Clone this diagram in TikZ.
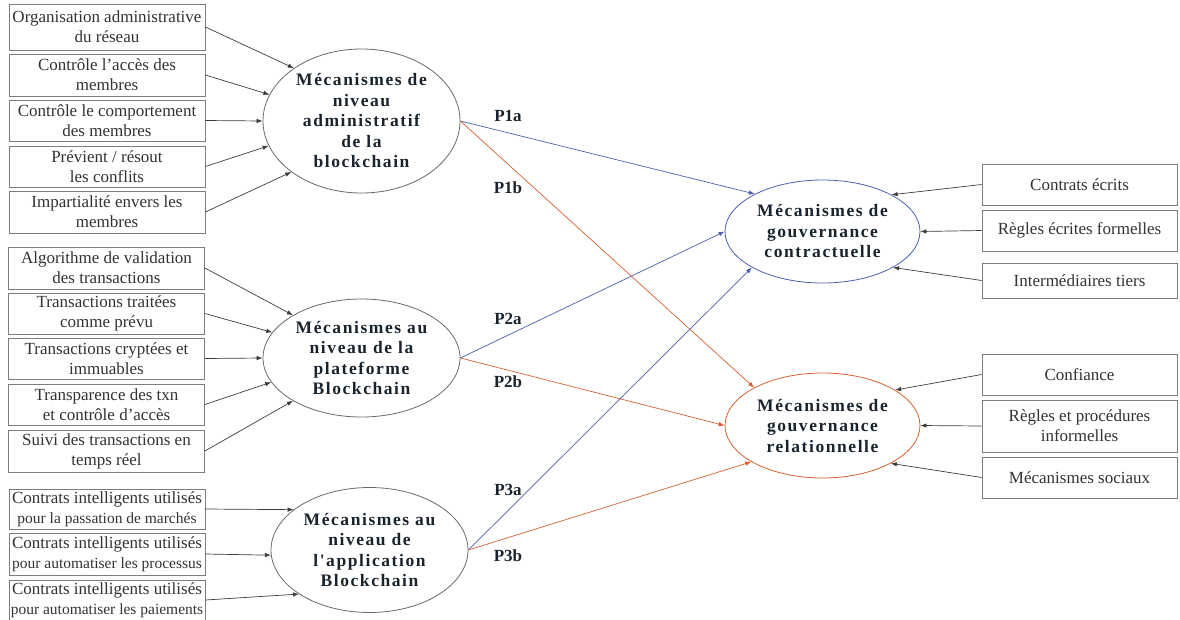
\documentclass[tikz,border=0pt]{standalone}
\usepackage{fontspec}
\setmainfont{Liberation Serif}
\newfontfamily\ellfont[LetterSpace=9]{Liberation Serif}
\usetikzlibrary{shapes.geometric,arrows.meta}
\definecolor{bxgray}{RGB}{125,125,125}
\definecolor{txgray}{RGB}{50,50,50}
\definecolor{navy}{RGB}{25,35,45}
\definecolor{lineblue}{RGB}{75,95,175}
\definecolor{lineorange}{RGB}{215,95,45}
\definecolor{arrgray}{RGB}{60,60,60}
\definecolor{ellgray}{RGB}{105,105,105}
\begin{document}
\begin{tikzpicture}[x=1pt,y=-1pt,
  box/.style={draw=bxgray, line width=0.8pt, minimum width=196pt, inner sep=0pt,
    align=center, text=txgray, font=\fontsize{17}{20}\selectfont},
  rbox/.style={box, minimum width=195pt},
  ell/.style={ellipse, draw=ellgray, line width=0.8pt, inner sep=0pt},
  etext/.style={align=center, text=navy, inner sep=0pt, font=\ellfont\bfseries\fontsize{17.5}{20.5}\selectfont},
  plab/.style={text=navy, inner sep=0pt, font=\bfseries\fontsize{17}{20}\selectfont},
  arr/.style={draw=arrgray, line width=0.7pt, -{Latex[length=6pt,width=4.5pt]}},
  barr/.style={draw=lineblue, line width=0.7pt, -{Latex[length=6pt,width=4.5pt]}},
  oarr/.style={draw=lineorange, line width=0.7pt, -{Latex[length=6pt,width=4.5pt]}}
]
\useasboundingbox (0,0) rectangle (1180,619);

% left group 1
\node[box, minimum height=46pt] (a1) at (107,27) {Organisation administrative\\du réseau};
\node[box, minimum height=42pt] (a2) at (107,75) {Contrôle l'accès des\\membres};
\node[box, minimum height=41pt] (a3) at (107,120.5) {Contrôle le comportement\\des membres};
\node[box, minimum height=41pt] (a4) at (107,166.5) {Prévient / résout\\les conflits};
\node[box, minimum height=42pt] (a5) at (107,212) {Impartialité envers les\\membres};

% left group 2
\node[box, minimum height=42pt] (b1) at (106.5,268) {Algorithme de validation\\des transactions};
\node[box, minimum height=41pt] (b2) at (106.5,313.5) {Transactions traitées\\comme prévu};
\node[box, minimum height=41pt] (b3) at (106.5,358.5) {Transactions cryptées et\\immuables};
\node[box, minimum height=41pt] (b4) at (106.5,404.5) {Transparence des txn\\et contrôle d'accès};
\node[box, minimum height=42pt] (b5) at (106.5,451) {Suivi des transactions en\\temps réel};

% left group 3
\node[box, minimum height=40pt] (c1) at (107,509) {Contrats intelligents utilisés\\{\fontsize{15.5}{20}\selectfont pour la passation de marchés}};
\node[box, minimum height=42pt] (c2) at (107,554) {Contrats intelligents utilisés\\{\fontsize{15.5}{20}\selectfont pour automatiser les processus}};
\node[box, minimum height=40pt] (c3) at (107,600) {Contrats intelligents utilisés\\{\fontsize{15.5}{20}\selectfont pour automatiser les paiements}};

% right boxes
\node[rbox, minimum height=41pt] (r1) at (1079.5,184.5) {Contrats écrits};
\node[rbox, minimum height=41pt] (r2) at (1079.5,230.5) {Règles écrites formelles};
\node[rbox, minimum height=35pt] (r3) at (1079.5,280.5) {Intermédiaires tiers};
\node[rbox, minimum height=41pt] (s1) at (1079.5,374.5) {Confiance};
\node[rbox, minimum height=52pt] (s2) at (1079.5,426) {Règles et procédures\\informelles};
\node[rbox, minimum height=41pt] (s3) at (1079.5,477.5) {Mécanismes sociaux};

% ellipses
\node[ell, minimum width=197pt, minimum height=144pt] (e1) at (361.5,121) {};
\node[ell, minimum width=197pt, minimum height=118pt] (e2) at (361.5,358) {};
\node[ell, minimum width=197pt, minimum height=125pt] (e3) at (369.5,550) {};
\node[ell, draw=lineblue, minimum width=195pt, minimum height=103pt] (k1) at (822.5,231.5) {};
\node[ell, draw=lineorange, minimum width=195pt, minimum height=105pt] (k2) at (822.5,425.5) {};

\node[etext] (t1) at (e1) {Mécanismes de\\niveau\\administratif\\de la\\blockchain};
\node[etext] (t2) at (e2) {Mécanismes au\\niveau de la\\plateforme\\Blockchain};
\node[etext] (t3) at (e3) {Mécanismes au\\niveau de\\l'application\\Blockchain};
\node[etext] (t4) at (k1) {Mécanismes de\\gouvernance\\contractuelle};
\node[etext] (t5) at (k2) {Mécanismes de\\gouvernance\\relationnelle};

% left arrows
\draw[arr] (a1.east) -- (e1.142);
\draw[arr] (a2.east) -- (e1.164.5);
\draw[arr] (a3.east) -- (e1.180);
\draw[arr] (a4.east) -- (e1.195.6);
\draw[arr] (a5.east) -- (e1.216.8);

\draw[arr] (b1.east) -- (e2.148.3);
\draw[arr] (b2.east) -- (e2.164.4);
\draw[arr] (b3.east) -- (e2.180);
\draw[arr] (b4.east) -- (e2.195.6);
\draw[arr] (b5.east) -- (e2.212.9);

\draw[arr] (c1.east) -- (e3.152.6);
\draw[arr] (c2.east) -- (e3.183);
\draw[arr] (c3.east) -- (e3.212);

% right arrows
\draw[arr] (r1.west) -- (k1.28.6);
\draw[arr] (r2.west) -- (k1.0);
\draw[arr] (r3.west) -- (k1.333);
\draw[arr] (s1.west) -- (k2.26.7);
\draw[arr] (s2.west) -- (k2.0);
\draw[arr] (s3.west) -- (k2.331.4);

% P arrows
\draw[barr] (e1.east) -- (k1.151.6);
\draw[oarr] (e1.east) -- (k2.151.6);
\draw[barr] (e2.east) -- (k1.180);
\draw[oarr] (e2.east) -- (k2.180);
\draw[barr] (e3.east) -- (k1.207.7);
\draw[oarr] (e3.east) -- (k2.207);

% labels
\node[plab] (p1a) at (508,116) {P1a};
\node[plab] (p1b) at (508,188) {P1b};
\node[plab] (p2a) at (508,319) {P2a};
\node[plab] (p2b) at (508,382) {P2b};
\node[plab] (p3a) at (508,490) {P3a};
\node[plab] (p3b) at (508,556) {P3b};
\end{tikzpicture}
\end{document}
